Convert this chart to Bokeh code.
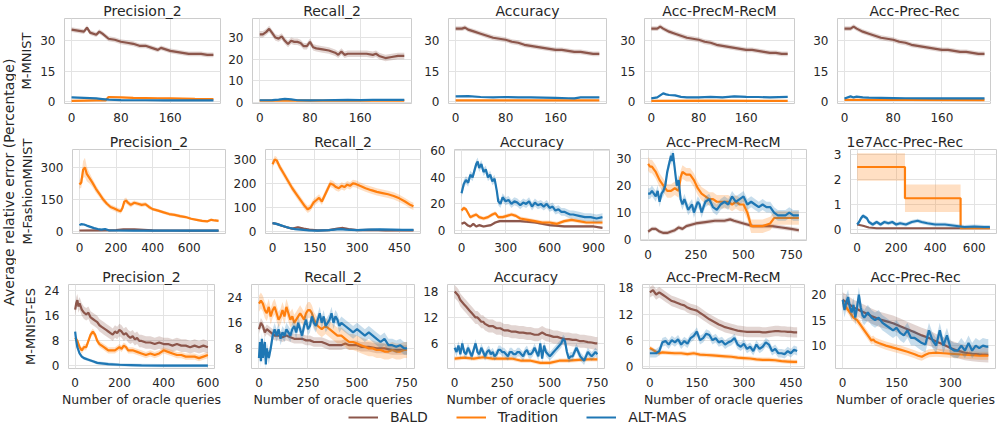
import numpy as np
from math import pi
from bokeh.plotting import figure
from bokeh.models import (Range1d, FixedTicker, Legend, LegendItem, Label,
                          CustomJSTickFormatter, ColumnDataSource)
from bokeh.layouts import row, column
from bokeh.embed import file_html
from bokeh.resources import INLINE

# ------------------------------------------------------------------ labels
SERIES = ["BALD", "Tradition", "ALT-MAS"]
COLORS = ["#8c564b", "#ff7f0e", "#1f77b4"]
ROW_NAMES = ["M-MNIST", "M-FashionMNIST", "M-MNIST-ES"]
METRICS = ["Precision_2", "Recall_2", "Accuracy", "Acc-PrecM-RecM", "Acc-Prec-Rec"]
SCI_OFFSET = "1e7"
Y_LABEL = "Average relative error (Percentage)"
X_LABEL = "Number of oracle queries"

# ------------------------------------------------------------------ M-MNIST
mm_p2_bald_x = [0, 10, 20, 25, 30, 40, 45, 50, 60, 70, 80, 90, 100, 110, 120, 130, 140, 145, 150, 160, 170, 180, 190, 200, 210, 220, 230]
mm_p2_bald_y = [35.5, 35, 34.5, 36.5, 34, 33, 34.5, 33.5, 31, 30.5, 29.5, 29, 28.5, 27.5, 27.5, 26.5, 25.5, 26.5, 26, 25, 24.5, 24, 23.5, 23.5, 23.5, 23, 23]
mm_p2_bald_s = 1.2
mm_p2_trad_x = [0, 20, 40, 55, 60, 80, 100, 120, 140, 160, 180, 200, 230]
mm_p2_trad_y = [0.3, 0.4, 0.5, 0.5, 2.2, 2.0, 1.8, 1.7, 1.6, 1.5, 1.4, 1.3, 1.2]
mm_p2_trad_s = 0.3
mm_p2_alt_x = [0, 10, 20, 30, 40, 50, 60, 70, 80, 100, 120, 150, 180, 230]
mm_p2_alt_y = [2.0, 1.9, 1.8, 1.7, 1.5, 1.2, 0.9, 0.8, 0.7, 0.6, 0.6, 0.5, 0.5, 0.5]
mm_p2_alt_s = 0.3

mm_r2_bald_x = [0, 5, 10, 15, 20, 25, 30, 35, 40, 45, 50, 55, 60, 65, 70, 75, 80, 85, 90, 100, 110, 120, 125, 130, 135, 140, 150, 160, 170, 180, 185, 190, 200, 210, 220, 230]
mm_r2_bald_y = [31.5, 31.5, 32.5, 34, 32, 30, 29.5, 30.5, 28.5, 27, 28.5, 28, 28, 27.5, 26, 26, 28, 25.5, 25, 24.5, 24, 23, 22, 23.5, 22, 22.5, 22.5, 22.5, 22.5, 22, 22.5, 21.5, 20.5, 21, 21.5, 21.5]
mm_r2_bald_s = 1.5
mm_r2_trad_x = [0, 50, 100, 150, 200, 230]
mm_r2_trad_y = [0.8, 0.9, 0.8, 0.8, 0.9, 0.8]
mm_r2_trad_s = 0.3
mm_r2_alt_x = [0, 20, 30, 40, 50, 60, 80, 100, 120, 140, 160, 180, 200, 230]
mm_r2_alt_y = [1.0, 1.1, 1.3, 1.6, 1.4, 1.0, 0.9, 1.0, 1.1, 1.2, 1.1, 1.2, 1.2, 1.2]
mm_r2_alt_s = 0.3

mm_acc_bald_x = [0, 10, 15, 20, 30, 40, 50, 60, 70, 80, 90, 100, 110, 120, 130, 140, 150, 160, 170, 180, 190, 200, 210, 220, 230]
mm_acc_bald_y = [36, 36, 36.5, 35.5, 34.5, 33.5, 32.5, 31.5, 31, 30.5, 29.5, 29, 28, 27.5, 27, 26.5, 26, 25.5, 25.5, 25, 24.5, 24.5, 24, 23.5, 23.5]
mm_acc_bald_s = 1.2
mm_acc_trad_x = [0, 100, 230]
mm_acc_trad_y = [0.5, 0.6, 0.5]
mm_acc_trad_s = 0.2
mm_acc_alt_x = [0, 20, 40, 60, 80, 100, 120, 140, 160, 180, 190, 200, 230]
mm_acc_alt_y = [2.5, 2.6, 2.2, 2.0, 2.2, 2.0, 2.0, 1.9, 1.8, 1.6, 1.5, 2.0, 2.0]
mm_acc_alt_s = 0.3

mm_apm_bald_x = [0, 10, 15, 20, 30, 40, 50, 60, 70, 80, 90, 100, 110, 120, 130, 140, 150, 160, 170, 180, 190, 200, 210, 220, 230]
mm_apm_bald_y = [36, 36, 37, 36, 34.5, 33.5, 32.5, 31.5, 31, 30.5, 29.5, 29, 28, 27.5, 27, 26.5, 26, 25.5, 25.5, 25, 24.5, 24, 24, 23.5, 23.5]
mm_apm_bald_s = 1.2
mm_apm_trad_x = [0, 100, 230]
mm_apm_trad_y = [0.3, 0.4, 0.3]
mm_apm_trad_s = 0.2
mm_apm_alt_x = [0, 10, 15, 20, 25, 30, 40, 50, 60, 80, 100, 120, 140, 160, 180, 200, 230]
mm_apm_alt_y = [1.5, 2, 3, 4, 3.5, 3.2, 3, 2.3, 2, 2, 2.3, 2, 2.5, 2.3, 2.2, 2, 2.3]
mm_apm_alt_s = 0.4

mm_apr_bald_x = [0, 10, 15, 20, 30, 40, 50, 60, 70, 80, 90, 100, 110, 120, 130, 140, 150, 160, 170, 180, 190, 200, 210, 220, 230]
mm_apr_bald_y = [36, 36, 37, 36, 34.5, 33.5, 32.5, 31.5, 31, 30.5, 29.5, 29, 28, 27.5, 27, 26.5, 26, 25.5, 25.5, 25, 24.5, 24.5, 24, 23.5, 23.5]
mm_apr_bald_s = 1.2
mm_apr_trad_x = [0, 100, 230]
mm_apr_trad_y = [0.8, 0.8, 0.7]
mm_apr_trad_s = 0.2
mm_apr_alt_x = [0, 10, 15, 20, 30, 40, 60, 80, 100, 150, 200, 230]
mm_apr_alt_y = [1.5, 2.5, 2.0, 2.4, 2.0, 1.9, 1.8, 1.7, 1.6, 1.5, 1.5, 1.5]
mm_apr_alt_s = 0.3

# ------------------------------------------------------------------ M-FashionMNIST
fm_p2_bald_x = [0, 100, 200, 240, 300, 350, 400, 500, 600, 760]
fm_p2_bald_y = [5, 6, 7, 10, 10, 8, 6, 5, 4, 4]
fm_p2_bald_s = 2
fm_p2_trad_x = [0, 10, 20, 30, 40, 55, 70, 90, 110, 130, 150, 170, 190, 210, 225, 235, 245, 255, 265, 280, 300, 320, 340, 360, 380, 400, 430, 460, 490, 520, 550, 580, 610, 640, 670, 700, 720, 740, 760]
fm_p2_trad_y = [220, 230, 290, 300, 270, 250, 230, 200, 175, 150, 130, 115, 108, 100, 95, 110, 140, 145, 135, 125, 135, 130, 125, 128, 115, 105, 98, 90, 82, 78, 72, 68, 60, 55, 50, 48, 55, 52, 50]
fm_p2_trad_s = [20, 25, 40, 45, 35, 25, 20, 18, 15, 15, 12, 12, 12, 12, 12, 15, 15, 15, 12, 12, 10, 10, 10, 10, 10, 8, 8, 8, 8, 8, 8, 6, 6, 6, 6, 6, 6, 6, 6]
fm_p2_alt_x = [0, 10, 25, 40, 60, 80, 100, 120, 140, 160, 200, 300, 400, 500, 600, 760]
fm_p2_alt_y = [30, 35, 33, 28, 22, 16, 12, 9, 12, 6, 5, 4, 4, 4, 4, 4]
fm_p2_alt_s = 4

fm_r2_bald_x = [0, 15, 30, 50, 70, 90, 110, 130, 160, 200, 230, 250, 270, 300, 350, 400, 450, 500]
fm_r2_bald_y = [35, 32, 25, 18, 12, 18, 12, 8, 5, 6, 12, 15, 10, 6, 7, 5, 6, 5]
fm_r2_bald_s = 4
fm_r2_trad_x = [0, 8, 15, 25, 40, 55, 70, 85, 100, 115, 125, 135, 145, 155, 165, 175, 185, 195, 205, 215, 225, 235, 245, 255, 265, 275, 285, 295, 310, 330, 350, 370, 390, 410, 430, 450, 470, 490, 500]
fm_r2_trad_y = [280, 300, 295, 270, 240, 210, 180, 155, 130, 105, 92, 100, 120, 130, 140, 125, 150, 175, 200, 195, 185, 180, 190, 185, 195, 190, 200, 198, 190, 180, 172, 165, 160, 155, 148, 138, 125, 110, 105]
fm_r2_trad_s = 15
fm_r2_alt_x = [0, 10, 25, 40, 60, 80, 100, 130, 160, 200, 240, 260, 300, 340, 380, 420, 460, 500]
fm_r2_alt_y = [35, 33, 28, 22, 15, 10, 8, 5, 4, 6, 10, 8, 6, 8, 9, 8, 7, 7]
fm_r2_alt_s = 4

fm_acc_bald_x = [0, 20, 40, 60, 80, 100, 120, 150, 200, 230, 260, 300, 400, 500, 600, 700, 800, 900, 960]
fm_acc_bald_y = [5, 6, 4, 3, 5, 3, 4, 3, 4, 6, 7, 7, 7, 6, 4, 3, 3, 3, 2]
fm_acc_bald_s = 1
fm_acc_trad_x = [0, 15, 30, 45, 60, 80, 100, 120, 150, 180, 210, 230, 250, 280, 310, 340, 370, 400, 450, 500, 550, 600, 650, 700, 750, 800, 850, 900, 960]
fm_acc_trad_y = [15, 17, 16, 13, 10, 11, 12, 10, 9, 10, 12, 13, 10, 10, 11, 12, 11, 9, 8, 7, 6, 6, 5, 7, 8, 7, 6, 6, 6]
fm_acc_trad_s = 1.5
fm_acc_alt_x = [0, 15, 30, 45, 60, 75, 90, 100, 110, 120, 135, 150, 165, 180, 195, 210, 225, 240, 250, 265, 280] + list(range(300, 761, 20)) + [800, 840, 880, 920, 960]
fm_acc_alt_y = [28, 35, 38, 36, 42, 40, 46, 50, 52, 47, 50, 44, 46, 40, 42, 37, 39, 30, 22, 20, 25,
                22, 23, 20, 22, 21, 19, 21, 20, 22, 18, 21, 19, 20, 18, 20, 17, 18, 15, 16, 14, 14, 13, 12, 12,
                11, 10, 10, 9, 10]
fm_acc_alt_s = 3

fm_apm_bald_x = [0, 20, 40, 60, 80, 100, 120, 140, 160, 180, 200, 250, 300, 350, 400, 430, 450, 500, 550, 600, 650, 700, 750, 790]
fm_apm_bald_y = [3, 4, 4, 3, 2.5, 2.5, 3, 3.5, 4.5, 4, 5, 6, 6.5, 7, 7, 7.5, 7, 6, 5, 5, 5, 4.5, 4, 3.5]
fm_apm_bald_s = 0.8
fm_apm_trad_x = [0, 10, 20, 30, 40, 60, 80, 100, 120, 140, 160, 170, 180] + list(range(200, 561, 20)) + [600, 640, 660, 700, 750, 790]
fm_apm_trad_y = [28, 27, 27, 26, 25, 22, 20, 18, 18, 19, 18, 23, 25,
                 24, 24, 22, 19, 17, 16, 15, 15, 14, 14, 14, 14, 13, 14, 13, 13, 10, 5, 5,
                 5, 6, 8, 8, 8, 8]
fm_apm_trad_s = 2.5
fm_apm_alt_x = list(range(0, 121, 10)) + [125] + list(range(130, 301, 10)) + list(range(320, 761, 20)) + [790]
fm_apm_alt_y = [17, 17, 18, 17, 16, 18, 14, 17, 18, 20, 25, 28, 31,
                29,
                32, 26, 20, 22, 15, 13, 15, 13, 11, 12, 13, 10, 12, 14, 13, 10, 12, 14,
                15, 12, 11, 13, 14, 13, 16, 14, 15, 16, 13, 14, 13, 12, 13, 12, 12, 10, 9, 9, 9, 10, 9,
                9]
fm_apm_alt_s = 2

fm_apr_bald_x = [0, 30, 60, 100, 200, 400, 680]
fm_apr_bald_y = [2.0e6, 1.5e6, 0.8e6, 0.5e6, 0.5e6, 0.5e6, 0.5e6]
fm_apr_bald_s = 0.2e6
fm_apr_trad_x = [0, 245, 530, 680]
fm_apr_trad_y = [2.5e7, 1.25e7, 0.05e7, 0.05e7]
fm_apr_trad_s = [5.5e6, 5.5e6, 0.3e6, 0.3e6]
fm_apr_alt_x = [0, 10, 20, 30, 40, 50, 60, 80, 100, 120, 140, 160, 180, 200, 220, 250, 280, 310, 330, 360, 400, 450, 500, 550, 600, 650, 680]
fm_apr_alt_y = [2.0e6, 3.0e6, 4.5e6, 5.5e6, 5.0e6, 4.5e6, 3.0e6, 2.0e6, 3.0e6, 2.0e6, 3.0e6, 2.5e6, 3.0e6, 2.0e6, 2.5e6, 2.0e6, 3.0e6, 3.5e6, 3.0e6, 2.5e6, 2.0e6, 2.0e6, 1.5e6, 1.0e6, 1.2e6, 1.0e6, 1.0e6]
fm_apr_alt_s = 0.8e6

# ------------------------------------------------------------------ M-MNIST-ES
es_p2_bald_x = [0, 5, 10, 15, 20, 30, 40, 50, 60, 70, 80, 90, 100, 110, 120, 130, 140, 150, 160, 170, 180, 190, 200, 210, 220, 230, 240, 250, 260, 270, 280, 290, 300, 320, 340, 360, 380, 400, 420, 440, 460, 480, 500, 520, 540, 560, 580, 600]
es_p2_bald_y = [18, 20, 21, 19, 20, 18, 17, 16.5, 17, 15.5, 15, 14.5, 14, 13, 12.5, 12, 11.5, 11, 10.5, 10, 11, 10.5, 11.5, 11, 10, 10.5, 9.5, 9, 9.5, 8.5, 9, 8, 8, 7.5, 7.5, 7, 7.5, 7, 7, 6.5, 7, 6.5, 6.5, 6, 6.5, 6, 6.5, 6]
es_p2_bald_s = 2
es_p2_trad_x = [0, 10, 20, 30, 40, 50, 60, 70, 80, 90, 100, 110, 120, 130, 140, 150, 160, 180, 200, 210, 220, 230, 240, 250, 260, 280, 300, 320, 340, 360, 380, 400, 420, 440, 460, 480, 500, 520, 540, 560, 580, 600]
es_p2_trad_y = [9, 8, 6, 5, 6, 6, 8, 10, 11, 10, 8, 7, 6.5, 6, 5.5, 5, 5, 5, 6, 5.5, 6.5, 6, 5, 5, 5, 4.5, 4, 3.5, 4, 3.5, 4, 5, 4.5, 4, 3.5, 3.5, 3, 3, 3, 2.5, 3, 3.5]
es_p2_trad_s = 1
es_p2_alt_x = [0, 5, 10, 20, 30, 40, 60, 80, 100, 150, 200, 250, 300, 400, 600]
es_p2_alt_y = [11, 8, 6, 4, 3, 2.5, 2, 1.5, 1, 0.6, 0.4, 0.3, 0.2, 0.1, 0.1]
es_p2_alt_s = 0.5

es_r2_bald_x = [0, 10, 20, 30, 40] + list(range(60, 561, 20)) + [600, 640, 680, 720, 755]
es_r2_bald_y = [14, 16, 15, 13, 14,
                13, 12, 12, 11.5, 12, 11.5, 11, 11, 11, 10.5, 10.5, 10, 10, 10, 9.5, 9, 9, 9, 9, 9.5, 9, 9, 9, 8.5, 8.5, 8.5,
                8, 8, 7.5, 7.5, 7.5]
es_r2_bald_s = 1.5
es_r2_trad_x = list(range(0, 301, 10)) + list(range(320, 741, 20)) + [755]
es_r2_trad_y = [22, 23, 22, 20, 19, 21, 18, 20, 21, 19, 17, 18, 20, 18, 21, 19, 17, 18, 16, 17, 18, 19, 18, 17, 19, 20, 20, 19, 17, 16, 15,
                14, 15, 14, 13, 12, 12, 11, 10, 10, 9.5, 9, 8.5, 8, 8, 7.5, 7.5, 7, 7, 7.5, 7, 7, 7.5,
                7.5]
es_r2_trad_s = 2.5
es_r2_alt_x = [0, 5, 10, 15, 20, 25, 30, 35, 40] + list(range(50, 421, 10)) + list(range(440, 741, 20)) + [755]
es_r2_alt_y = [5, 10, 4, 11, 5, 8, 10, 3, 8,
               5, 8, 12, 14, 12, 14, 11, 13, 12, 14, 13, 12, 14, 15, 13, 16, 14, 12, 15, 17, 14, 15, 18, 16, 15, 17, 19, 16, 18, 15, 16, 17, 19, 16, 18, 17, 15, 16,
               15, 14, 13, 14, 13, 12, 13, 12, 11, 10, 11, 9, 9, 8.5, 9, 8,
               8]
es_r2_alt_s = 2

es_acc_bald_x = [0, 10, 20, 30, 40, 50, 60, 70, 80, 90, 100, 110, 120, 130, 140, 150, 160] + list(range(180, 741, 20)) + [750]
es_acc_bald_y = [18, 17.5, 17, 16, 15.5, 15, 14.5, 14, 13.5, 13, 12.5, 12, 12, 11.5, 11, 11, 10.5,
                 10, 10, 9.5, 9.5, 9, 9, 8.7, 8.7, 8.5, 8.5, 8.3, 8.3, 8, 8, 8.5, 8, 7.8, 7.5, 7.5, 7.2, 7, 7, 6.8, 6.8, 6.5, 6.5, 6.3, 6.2, 6,
                 6]
es_acc_bald_s = 1.5
es_acc_trad_x = list(range(0, 751, 50))
es_acc_trad_y = [2.5, 2.7, 2.5, 2.8, 2.5, 2.5, 2.5, 2, 2, 1.5, 1.5, 2, 2, 2.2, 2.3, 2.3]
es_acc_trad_s = 0.5
es_acc_alt_x = list(range(0, 751, 10))
es_acc_alt_y = [5, 4, 5.5, 3.5, 6, 4, 3.5, 5, 4, 3, 4.5, 6, 4, 3.5, 5, 4, 3, 4, 4.5, 3.5,
                4, 3, 3.5, 4.5, 4.5, 4, 4, 3.5, 3, 4, 4, 3.5, 3.5, 4, 4, 3.5, 3, 4, 4.5, 3.5,
                3.5, 4, 5, 4, 3, 6, 2.5, 5.5, 4, 3.5, 3, 3.5, 4, 4.5, 5, 5.5, 6, 7, 6.5, 4,
                2.5, 3, 3, 4, 5, 4, 3, 2.5, 2, 3, 4, 3.5, 3, 3.5, 4, 3.5]
es_acc_alt_s = 1

es_apm_bald_x = list(range(0, 471, 10))
es_apm_bald_y = [17, 17.5, 16.5, 17, 16.5, 16, 15.5, 15, 14.8, 14.5, 14.2, 14, 13.5, 13.2, 13, 12.8, 12.3, 11.8, 11.3, 10.8,
                 10.4, 10, 9.6, 9.3, 9, 8.8, 8.6, 8.4, 8.2, 8.1, 8, 7.9, 7.9, 7.9, 7.9, 7.9, 7.8, 7.8, 7.9, 8,
                 8.1, 8.1, 8, 8, 7.9, 7.9, 7.8, 7.8]
es_apm_bald_s = 1.2
es_apm_trad_x = [0, 10, 20, 30, 40, 60, 80, 100, 120, 140, 160, 180, 200, 220, 240, 260, 280, 300, 320, 340, 360, 380, 400, 420, 440, 460, 470]
es_apm_trad_y = [4.2, 3.8, 3.3, 3, 3.2, 3.1, 3, 3, 2.8, 3, 2.7, 2.6, 2.5, 2.4, 2.3, 2.2, 2, 1.9, 1.8, 1.6, 1.5, 1.5, 1.4, 1.2, 1.1, 1.0, 1.0]
es_apm_trad_s = 0.5
es_apm_alt_x = list(range(0, 471, 10))
es_apm_alt_y = [3, 3, 3, 3.5, 5.5, 5.8, 5, 6, 5.5, 6.2, 5, 5.8, 5.2, 6.5, 7, 8, 6, 6.5, 7.5, 7.2,
                6, 6.5, 5.5, 5.8, 5, 5.5, 5.8, 6.5, 5, 4.5, 5.2, 4, 4.5, 3.5, 5, 4, 4.5, 5.5, 5, 3.5,
                4, 3, 3, 2.8, 3.5, 3, 3.8, 3.5]
es_apm_alt_s = 1

es_apr_bald_x = [0, 10, 20, 30, 40, 50, 60, 80, 100, 120, 140, 160, 180, 200, 220, 240, 260, 280, 300, 320, 340, 360, 380, 405]
es_apr_bald_y = [19, 18.5, 18, 17.5, 17.2, 16.8, 16.5, 15.8, 15.2, 14.8, 14.4, 13.8, 13.2, 12.6, 12, 11.5, 10.8, 10.2, 9.5, 9, 8.6, 8.4, 8.3, 8.2]
es_apr_bald_s = 1.5
es_apr_trad_x = [0, 10, 20, 30, 40, 50, 60, 70, 80, 85, 90, 100, 120, 140, 160, 180, 200, 210, 220, 230, 240, 260, 280, 300, 320, 340, 360, 380, 405]
es_apr_trad_y = [18.5, 17.5, 16.5, 15.5, 15, 14, 13, 12, 11, 11.2, 10.8, 10.5, 10, 9.6, 9.2, 8.8, 8.3, 8, 7.8, 8.2, 8.5, 8.6, 8.5, 8.4, 8.3, 8.2, 8.1, 8, 8]
es_apr_trad_s = 0.8
es_apr_alt_x = [0, 5, 10, 15, 20, 25, 30, 35, 40, 45, 50, 55, 60] + list(range(70, 401, 10)) + [405]
es_apr_alt_y = [19, 17, 18.5, 19.5, 17.5, 16.5, 18, 15.5, 17.5, 20, 17.5, 16, 15.5,
                16.5, 15.5, 15, 15.5, 14.5, 14, 13.5, 13, 13.5, 12.5, 12, 13, 11.5, 11.5, 11, 10.5, 10.2, 13, 11, 10,
                13, 10, 12, 9.5, 9, 9, 10, 9, 10.5, 9, 10, 9.5, 10, 9.8,
                9.8]
es_apr_alt_s = 1.5

# ------------------------------------------------------------------ axes (ranges and ticks)
mm_xrange = (-11.5, 241.5)
mm_xticks = [0, 80, 160]
mm_yranges = [(-1, 41), (-0.5, 38.8), (-1, 41), (-1, 41), (-1, 41)]
mm_yticks = [[0, 15, 30], [0, 10, 20, 30], [0, 15, 30], [0, 15, 30], [0, 15, 30]]

fm_xranges = [(-38, 798), (-25, 525), (-48, 1008), (-40, 830), (-34, 714)]
fm_xticks = [[0, 200, 400, 600], [0, 150, 300, 450], [0, 300, 600, 900], [0, 250, 500, 750], [0, 200, 400, 600]]
fm_yranges = [(-9, 384), (-8, 341), (-2.3, 61), (-0.3, 33.3), (-0.16e7, 3.2e7)]
fm_yticks = [[0, 150, 300], [0, 100, 200, 300], [0, 20, 40, 60], [0, 10, 20, 30], [0, 1e7, 2e7, 3e7]]

es_xranges = [(-30, 630), (-38, 793), (-37.5, 787.5), (-23.5, 493.5), (-20, 425)]
es_xticks = [[0, 200, 400, 600], [0, 250, 500, 750], [0, 250, 500, 750], [0, 150, 300, 450], [0, 150, 300]]
es_yranges = [(-0.8, 26), (1.7, 28), (0.2, 19.6), (-0.5, 18.8), (5.5, 22)]
es_yticks = [[0, 8, 16, 24], [8, 16, 24], [6, 12, 18], [0, 6, 12, 18], [10, 15, 20]]

DATA = [
    [[(mm_p2_bald_x, mm_p2_bald_y, mm_p2_bald_s), (mm_p2_trad_x, mm_p2_trad_y, mm_p2_trad_s), (mm_p2_alt_x, mm_p2_alt_y, mm_p2_alt_s)],
     [(mm_r2_bald_x, mm_r2_bald_y, mm_r2_bald_s), (mm_r2_trad_x, mm_r2_trad_y, mm_r2_trad_s), (mm_r2_alt_x, mm_r2_alt_y, mm_r2_alt_s)],
     [(mm_acc_bald_x, mm_acc_bald_y, mm_acc_bald_s), (mm_acc_trad_x, mm_acc_trad_y, mm_acc_trad_s), (mm_acc_alt_x, mm_acc_alt_y, mm_acc_alt_s)],
     [(mm_apm_bald_x, mm_apm_bald_y, mm_apm_bald_s), (mm_apm_trad_x, mm_apm_trad_y, mm_apm_trad_s), (mm_apm_alt_x, mm_apm_alt_y, mm_apm_alt_s)],
     [(mm_apr_bald_x, mm_apr_bald_y, mm_apr_bald_s), (mm_apr_trad_x, mm_apr_trad_y, mm_apr_trad_s), (mm_apr_alt_x, mm_apr_alt_y, mm_apr_alt_s)]],
    [[(fm_p2_bald_x, fm_p2_bald_y, fm_p2_bald_s), (fm_p2_trad_x, fm_p2_trad_y, fm_p2_trad_s), (fm_p2_alt_x, fm_p2_alt_y, fm_p2_alt_s)],
     [(fm_r2_bald_x, fm_r2_bald_y, fm_r2_bald_s), (fm_r2_trad_x, fm_r2_trad_y, fm_r2_trad_s), (fm_r2_alt_x, fm_r2_alt_y, fm_r2_alt_s)],
     [(fm_acc_bald_x, fm_acc_bald_y, fm_acc_bald_s), (fm_acc_trad_x, fm_acc_trad_y, fm_acc_trad_s), (fm_acc_alt_x, fm_acc_alt_y, fm_acc_alt_s)],
     [(fm_apm_bald_x, fm_apm_bald_y, fm_apm_bald_s), (fm_apm_trad_x, fm_apm_trad_y, fm_apm_trad_s), (fm_apm_alt_x, fm_apm_alt_y, fm_apm_alt_s)],
     [(fm_apr_bald_x, fm_apr_bald_y, fm_apr_bald_s), (fm_apr_trad_x, fm_apr_trad_y, fm_apr_trad_s), (fm_apr_alt_x, fm_apr_alt_y, fm_apr_alt_s)]],
    [[(es_p2_bald_x, es_p2_bald_y, es_p2_bald_s), (es_p2_trad_x, es_p2_trad_y, es_p2_trad_s), (es_p2_alt_x, es_p2_alt_y, es_p2_alt_s)],
     [(es_r2_bald_x, es_r2_bald_y, es_r2_bald_s), (es_r2_trad_x, es_r2_trad_y, es_r2_trad_s), (es_r2_alt_x, es_r2_alt_y, es_r2_alt_s)],
     [(es_acc_bald_x, es_acc_bald_y, es_acc_bald_s), (es_acc_trad_x, es_acc_trad_y, es_acc_trad_s), (es_acc_alt_x, es_acc_alt_y, es_acc_alt_s)],
     [(es_apm_bald_x, es_apm_bald_y, es_apm_bald_s), (es_apm_trad_x, es_apm_trad_y, es_apm_trad_s), (es_apm_alt_x, es_apm_alt_y, es_apm_alt_s)],
     [(es_apr_bald_x, es_apr_bald_y, es_apr_bald_s), (es_apr_trad_x, es_apr_trad_y, es_apr_trad_s), (es_apr_alt_x, es_apr_alt_y, es_apr_alt_s)]],
]
XRANGES = [[mm_xrange] * 5, fm_xranges, es_xranges]
XTICKS = [[mm_xticks] * 5, fm_xticks, es_xticks]
YRANGES = [mm_yranges, fm_yranges, es_yranges]
YTICKS = [mm_yticks, fm_yticks, es_yticks]
STEP_SERIES = (1, 4, 1)   # (row, col, series) drawn as a step curve
SCI_PANEL = (1, 4)        # panel with 1e7 offset

# ------------------------------------------------------------------ layout geometry (page px)
LEFT0 = 24      # after the outer y-label strip (8..24)
RIGHT_END = 997
ROW_FIG = [(8, 128), (128, 262), (262, 405)]
FRAMES = [
    [(70, 226, 23, 108), (258, 417, 23, 108), (454, 612, 23, 108), (650, 800, 23, 108), (843, 997, 23, 108)],
    [(70, 223, 153, 237), (263, 418, 153, 237), (452, 607, 153, 237), (637, 803, 153, 244), (847, 993, 153, 237)],
    [(76, 222, 285, 369), (257, 420, 285, 369), (453, 610, 285, 369), (648, 810, 285, 369), (836, 996, 285, 369)],
]
BOUNDS = [
    [LEFT0, 230, 421, 616, 804, RIGHT_END],
    [LEFT0, 227, 422, 611, 807, RIGHT_END],
    [LEFT0, 232, 424, 614, 814, RIGHT_END],
]
FONT = "DejaVu Sans"
TEXT_COLOR = "#262626"
LINE_W = 2.2


def make_panel(ri, ci):
    l, r, t, b = FRAMES[ri][ci]
    bnd = BOUNDS[ri]
    ftop, fbot = ROW_FIG[ri]
    xr, yr = XRANGES[ri][ci], YRANGES[ri][ci]
    p = figure(frame_width=r - l, frame_height=b - t,
               min_border_left=l - bnd[ci], min_border_right=bnd[ci + 1] - r,
               min_border_top=t - ftop, min_border_bottom=fbot - b,
               x_range=Range1d(*xr), y_range=Range1d(*yr),
               output_backend="svg", toolbar_location=None, tools="")
    p.background_fill_color = "white"
    p.border_fill_color = "white"
    p.outline_line_color = "#cccccc"
    p.outline_line_width = 1
    p.xaxis.ticker = FixedTicker(ticks=XTICKS[ri][ci])
    p.yaxis.ticker = FixedTicker(ticks=YTICKS[ri][ci])
    p.xgrid.ticker = FixedTicker(ticks=XTICKS[ri][ci])
    p.ygrid.ticker = FixedTicker(ticks=YTICKS[ri][ci])
    p.grid.grid_line_color = "#e3e3e3"
    p.grid.grid_line_width = 1
    for ax in p.axis:
        ax.axis_line_color = None
        ax.major_tick_line_color = None
        ax.minor_tick_line_color = None
        ax.major_label_text_font = FONT
        ax.major_label_text_font_size = "12px"
        ax.major_label_text_color = TEXT_COLOR
        ax.major_label_standoff = 3
        ax.axis_label_text_font = FONT
        ax.axis_label_text_font_size = "12.5px"
        ax.axis_label_text_font_style = "normal"
        ax.axis_label_text_color = TEXT_COLOR

    # title
    p.title.text_font = FONT
    p.title.text_font_size = "14px"
    p.title.text_font_style = "normal"
    p.title.text_color = TEXT_COLOR
    if "standoff" in p.title.properties():
        p.title.standoff = 0
    if (ri, ci) == SCI_PANEL:
        p.yaxis.formatter = CustomJSTickFormatter(code="return (tick/1e7).toFixed(0);")
        p.title.text = SCI_OFFSET + METRICS[ci]
        p.title.align = "left"
        p.title.offset = -4
    else:
        p.title.text = METRICS[ci]
        p.title.align = "center"

    if ci == 0:
        p.yaxis.axis_label = ROW_NAMES[ri]
        p.yaxis.axis_label_standoff = 3
        p.yaxis.axis_label_text_font_size = "13px"
    if ri == 2:
        p.xaxis.axis_label = X_LABEL
        p.xaxis.axis_label_standoff = 2

    for k, (x, y, s) in enumerate(DATA[ri][ci]):
        n = min(len(x), len(y))
        xs = np.asarray(x[:n], dtype=float)
        ys = np.asarray(y[:n], dtype=float)
        sp = np.asarray(s, dtype=float)
        sp = sp[:n] if sp.ndim else np.full(n, float(sp))
        src = ColumnDataSource(dict(x=xs, y=ys, lo=ys - sp, hi=ys + sp))
        c = COLORS[k]
        if (ri, ci, k) == STEP_SERIES:
            p.varea_step(x="x", y1="lo", y2="hi", step_mode="after", source=src,
                         fill_color=c, fill_alpha=0.25)
            p.step(x="x", y="y", mode="after", source=src, line_color=c, line_width=LINE_W)
        else:
            p.varea(x="x", y1="lo", y2="hi", source=src, fill_color=c, fill_alpha=0.25)
            p.line(x="x", y="y", source=src, line_color=c, line_width=LINE_W)
    return p


rows = []
for ri in range(3):
    rows.append(row(*[make_panel(ri, ci) for ci in range(5)], spacing=0))

# legend strip: the legend's renderers hold a real series, kept outside the visible window
leg = figure(frame_width=RIGHT_END - LEFT0, frame_height=16, min_border=0,
             x_range=Range1d(0, 1), y_range=Range1d(1000, 1001),
             x_axis_location=None, y_axis_location=None,
             output_backend="svg", toolbar_location=None, tools="")
leg.grid.visible = False
leg.outline_line_color = None
items = []
for k, (name, c) in enumerate(zip(SERIES, COLORS)):
    x, y, s = DATA[2][0][k]
    rr = leg.line(x=x, y=y, line_color=c, line_width=2)
    items.append(LegendItem(label=name, renderers=[rr]))
legend = Legend(items=items, orientation="horizontal", location=(332, 0),
                border_line_color=None, background_fill_alpha=0, padding=0, margin=0,
                spacing=28, glyph_width=30, glyph_height=16, label_height=16,
                label_standoff=12, label_text_font=FONT, label_text_font_size="14px",
                label_text_color=TEXT_COLOR)
leg.add_layout(legend)

# outer y label strip
lab = figure(frame_width=LEFT0 - 8, frame_height=413, min_border=0,
             x_range=Range1d(0, 1), y_range=Range1d(0, 1),
             x_axis_location=None, y_axis_location=None,
             output_backend="svg", toolbar_location=None, tools="")
lab.grid.visible = False
lab.outline_line_color = None
lab.add_layout(Label(x=0.5, y=0.56, text=Y_LABEL, angle=pi / 2, text_font=FONT,
                     text_font_size="14px", text_color=TEXT_COLOR,
                     text_align="center", text_baseline="middle"))

layout = row(lab, column(*rows, leg, spacing=0), spacing=0)
open("out.html", "w").write(file_html(layout, INLINE, title="relative error"))
